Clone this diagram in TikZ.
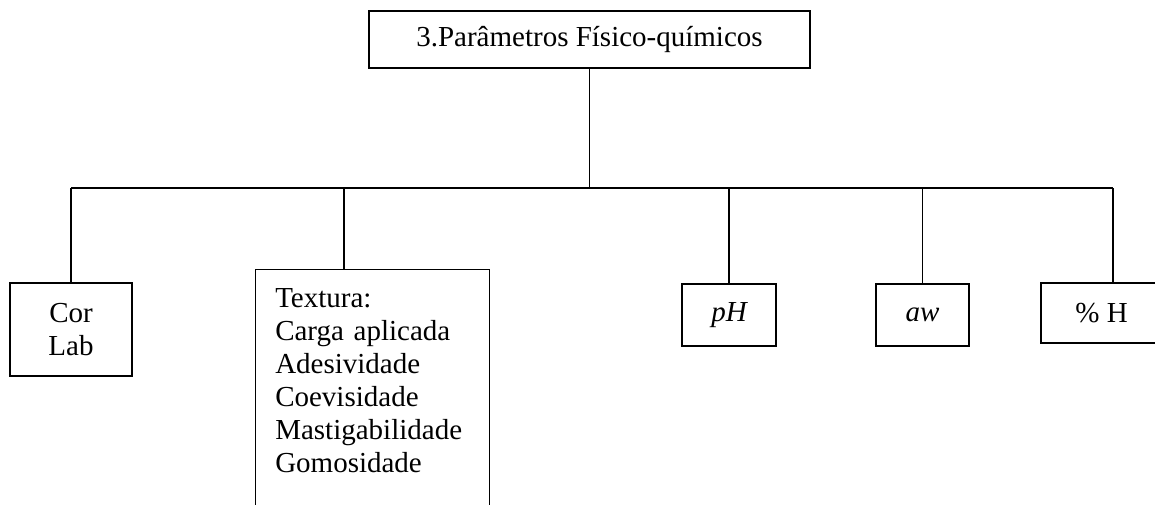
\documentclass[tikz,border=0pt]{standalone}
\usepackage{fontspec}
\setmainfont{Liberation Serif}
\usetikzlibrary{calc}
\begin{document}
\begin{tikzpicture}[x=0.75pt,y=-0.75pt,
  every node/.style={font=\fontsize{21.75pt}{24.75pt}\selectfont},
  box/.style={draw,line width=0.9pt,inner sep=0pt,align=center},
  conn/.style={line width=0.9pt}]
\useasboundingbox (0,0) rectangle (1155,504);
\clip (0,0) rectangle (1155,504);
\node[box,minimum width=441*0.75pt,minimum height=57*0.75pt] (top) at (589.5,39.5) {3.Parâmetros Físico-químicos};
\node[box,minimum width=122*0.75pt,minimum height=93*0.75pt] (cor) at (71,329.5) {Cor\\Lab};
\node[box,anchor=north west,minimum width=234*0.75pt,minimum height=260*0.75pt] (tex) at (255,269) {};
\node[anchor=base west,inner sep=0pt,text width=200*0.75pt,align=left] (textxt) at (275,307) {Textura:\\Carga aplicada\\Adesividade\\Coevisidade\\Mastigabilidade\\Gomosidade};
\node[box,minimum width=94*0.75pt,minimum height=62*0.75pt] (ph) at (729,315) {\itshape pH};
\node[box,minimum width=93*0.75pt,minimum height=62*0.75pt] (aw) at (922.5,315) {\itshape aw};
\node[box,minimum width=121*0.75pt,minimum height=60*0.75pt] (h) at (1101.5,313) {\% H};
\coordinate (bar) at (0,188);
\coordinate (texj) at (344,269);
\draw[conn] (top.south) -- (top.south |- bar);
\draw[conn] (cor.north |- bar) -- (1113,188) coordinate (hj);
\draw[conn] (cor.north) -- (cor.north |- bar);
\draw[conn] (texj) -- (texj |- bar);
\draw[conn] (ph.north) -- (ph.north |- bar);
\draw[conn] (aw.north) -- (aw.north |- bar);
\draw[conn] (hj) -- (hj |- h.north);
\end{tikzpicture}
\end{document}
